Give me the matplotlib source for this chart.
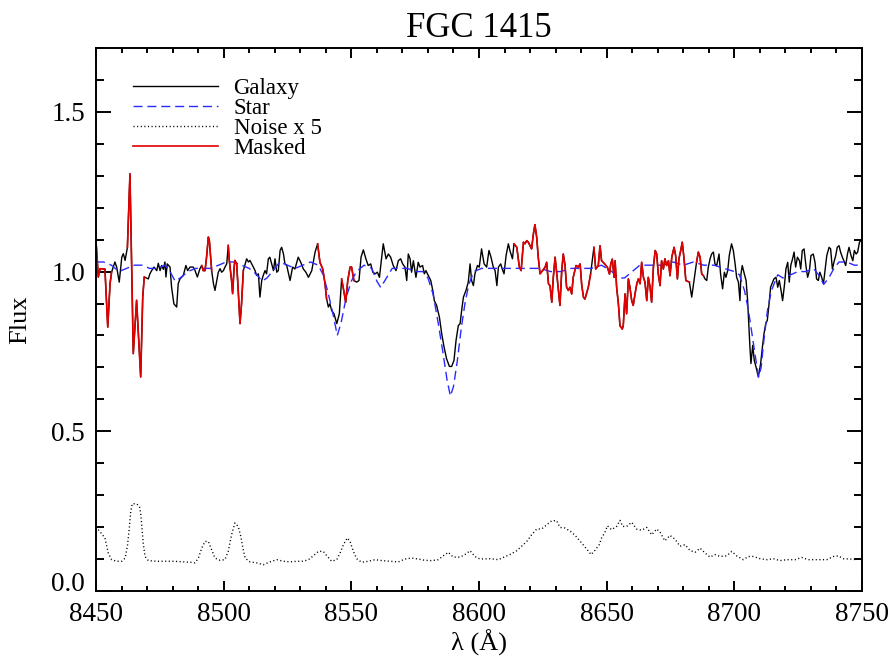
import matplotlib
matplotlib.use("Agg")
import matplotlib.pyplot as plt
import numpy as np

plt.rcParams["font.family"] = ["Liberation Serif", "DejaVu Serif"]
plt.rcParams["mathtext.fontset"] = "stix"

# Galaxy spectrum (wavelength in Angstrom, normalised flux)
gal_wave = [
    8450.0, 8450.9, 8451.6, 8453.5, 8454.6, 8455.5, 8456.1, 8457.4, 8458.1, 8459.1,
    8460.1, 8460.7, 8461.4, 8462.3, 8463.3, 8464.6, 8465.9, 8467.5, 8468.3, 8468.9,
    8470.5, 8471.1, 8471.8, 8472.7, 8473.8, 8474.4, 8475.1, 8475.7, 8476.4, 8477.0,
    8477.4, 8477.9, 8479.0, 8479.6, 8480.5, 8481.6, 8482.2, 8482.9, 8484.2, 8485.2,
    8485.9, 8486.8, 8488.1, 8488.8, 8489.7, 8490.7, 8491.4, 8492.0, 8492.7, 8493.3,
    8494.0, 8494.4, 8494.9, 8495.3, 8496.0, 8496.6, 8497.3, 8497.9, 8498.6, 8499.2,
    8499.9, 8500.5, 8501.2, 8501.8, 8502.2, 8503.1, 8503.5, 8504.1, 8504.4, 8505.1,
    8505.7, 8506.4, 8507.0, 8507.7, 8509.0, 8509.7, 8510.3, 8511.0, 8511.6, 8512.3,
    8512.9, 8513.6, 8514.2, 8514.9, 8515.5, 8516.2, 8516.8, 8517.5, 8518.1, 8518.8,
    8519.5, 8520.1, 8520.8, 8521.4, 8522.1, 8522.7, 8523.4, 8524.0, 8524.7, 8526.0,
    8527.0, 8527.9, 8529.2, 8530.2, 8531.2, 8532.2, 8533.2, 8534.5, 8535.8, 8536.8,
    8537.7, 8538.8, 8539.7, 8540.3, 8541.0, 8541.6, 8542.3, 8543.2, 8544.3, 8545.3,
    8546.2, 8546.9, 8547.8, 8548.6, 8549.5, 8550.1, 8551.0, 8552.1, 8553.0, 8553.8,
    8554.7, 8555.7, 8556.6, 8557.6, 8558.4, 8559.3, 8560.2, 8561.0, 8561.9, 8562.5,
    8563.6, 8564.5, 8565.4, 8566.4, 8567.5, 8568.4, 8569.3, 8570.1, 8571.0, 8571.7,
    8572.3, 8573.0, 8573.6, 8574.3, 8575.3, 8576.2, 8576.9, 8577.9, 8578.6, 8579.2,
    8580.2, 8581.1, 8581.9, 8582.5, 8583.4, 8584.5, 8585.4, 8586.3, 8587.3, 8588.4,
    8589.3, 8590.2, 8591.0, 8591.9, 8592.6, 8593.2, 8593.9, 8594.9, 8595.8, 8596.5,
    8597.1, 8597.8, 8598.4, 8599.4, 8600.1, 8601.0, 8602.0, 8603.0, 8603.9, 8604.7,
    8605.6, 8606.3, 8607.0, 8607.6, 8608.5, 8609.1, 8609.8, 8610.6, 8611.5, 8612.1,
    8613.1, 8613.7, 8614.8, 8615.8, 8616.5, 8617.4, 8618.0, 8618.7, 8619.3, 8620.0,
    8620.6, 8621.3, 8621.9, 8622.6, 8623.2, 8623.9, 8624.9, 8625.9, 8626.5, 8627.2,
    8627.8, 8628.5, 8629.1, 8629.8, 8630.4, 8631.1, 8631.7, 8632.4, 8633.0, 8633.7,
    8634.3, 8635.0, 8635.6, 8636.3, 8636.9, 8638.0, 8638.9, 8639.6, 8640.2, 8640.9,
    8641.5, 8642.8, 8643.7, 8645.0, 8645.7, 8646.7, 8647.4, 8648.0, 8649.2, 8650.3,
    8651.1, 8651.6, 8652.2, 8652.9, 8653.3, 8653.9, 8654.6, 8655.2, 8656.1, 8656.5,
    8657.2, 8657.8, 8658.5, 8659.1, 8659.8, 8660.4, 8661.1, 8661.8, 8662.4, 8663.1,
    8663.7, 8664.4, 8665.0, 8665.7, 8666.3, 8667.0, 8667.6, 8668.3, 8669.0, 8669.6,
    8670.2, 8670.9, 8671.5, 8672.2, 8672.8, 8673.5, 8674.2, 8674.8, 8675.5, 8676.4,
    8677.0, 8677.7, 8678.3, 8679.0, 8679.6, 8680.3, 8681.0, 8682.4, 8683.3, 8684.2,
    8685.2, 8685.9, 8686.6, 8687.2, 8687.9, 8688.5, 8689.2, 8689.8, 8690.5, 8691.1,
    8691.8, 8692.4, 8693.1, 8694.0, 8694.6, 8695.4, 8696.1, 8696.7, 8697.4, 8698.0,
    8698.9, 8699.6, 8700.3, 8700.9, 8701.6, 8702.2, 8702.6, 8703.1, 8703.9, 8704.6,
    8705.2, 8705.7, 8706.1, 8706.5, 8707.2, 8707.8, 8708.5, 8709.4, 8710.3, 8711.0,
    8711.6, 8712.3, 8712.9, 8713.6, 8714.2, 8715.0, 8715.5, 8716.3, 8717.0, 8717.6,
    8718.3, 8718.9, 8719.6, 8720.2, 8720.9, 8721.5, 8722.1, 8722.8, 8723.4, 8724.0,
    8724.7, 8725.5, 8726.0, 8726.6, 8727.3, 8728.1, 8728.7, 8729.4, 8730.0, 8730.9,
    8731.6, 8732.2, 8732.9, 8733.5, 8734.2, 8734.9, 8735.5, 8736.2, 8737.1, 8737.7,
    8738.4, 8739.0, 8739.7, 8740.3, 8741.0, 8741.6, 8742.3, 8742.9, 8743.6, 8744.3,
    8744.9, 8745.7, 8746.4, 8747.0, 8747.7, 8748.3, 8749.0, 8749.6,
]
gal_flux = [
    1.097, 0.983, 1.009, 1.008, 0.826, 0.962, 0.998, 1.030, 1.014, 0.967,
    1.045, 1.056, 1.035, 1.076, 1.306, 0.743, 0.910, 0.670, 0.920, 0.983,
    0.977, 0.993, 1.003, 1.014, 1.003, 1.026, 1.003, 1.019, 1.007, 1.030,
    0.983, 1.024, 1.014, 0.951, 0.899, 0.889, 0.962, 0.977, 0.988, 1.019,
    1.003, 1.014, 1.014, 1.003, 0.983, 1.009, 1.019, 1.003, 1.003, 1.045,
    1.108, 1.097, 1.045, 1.003, 0.962, 0.941, 0.972, 0.998, 1.009, 0.998,
    1.003, 1.014, 1.024, 1.082, 1.035, 0.972, 0.931, 1.014, 1.035, 1.024,
    0.941, 0.837, 0.899, 1.003, 1.040, 1.030, 1.035, 1.024, 1.014, 1.003,
    0.988, 0.993, 0.920, 0.972, 0.988, 1.003, 0.993, 1.040, 1.045, 1.024,
    1.003, 1.040, 0.998, 1.003, 1.066, 1.076, 1.056, 1.024, 1.019, 0.972,
    1.014, 1.008, 1.045, 1.029, 1.008, 0.998, 0.982, 1.003, 1.061, 1.087,
    1.029, 1.008, 0.962, 0.915, 0.889, 0.899, 0.878, 0.868, 0.837, 0.868,
    0.977, 0.946, 0.904, 0.972, 1.014, 1.014, 0.972, 0.967, 0.972, 1.045,
    1.068, 1.040, 1.019, 1.024, 0.998, 0.993, 0.998, 0.982, 1.045, 1.087,
    1.040, 1.055, 1.045, 1.019, 1.003, 1.034, 1.040, 1.024, 1.014, 0.972,
    1.055, 1.040, 0.998, 1.034, 0.982, 1.029, 1.014, 1.019, 0.993, 1.003,
    0.987, 0.972, 0.941, 0.909, 0.894, 0.857, 0.805, 0.764, 0.727, 0.703,
    0.703, 0.722, 0.784, 0.831, 0.837, 0.878, 0.920, 0.941, 0.967, 1.024,
    0.972, 0.956, 0.993, 1.019, 1.014, 1.071, 1.024, 1.014, 1.066, 1.045,
    1.014, 1.003, 0.956, 1.014, 1.024, 1.008, 0.993, 1.050, 1.087, 1.066,
    1.040, 1.087, 1.076, 1.014, 1.003, 1.092, 1.087, 1.097, 1.092, 1.081,
    1.071, 1.118, 1.147, 1.107, 1.045, 0.993, 1.003, 1.014, 1.029, 0.962,
    0.956, 0.904, 0.982, 1.045, 0.998, 0.941, 0.894, 1.003, 1.055, 1.019,
    0.951, 0.941, 0.951, 0.930, 0.982, 1.019, 1.014, 1.024, 0.960, 0.920,
    0.914, 0.951, 0.992, 1.076, 1.008, 1.018, 1.081, 1.034, 1.024, 1.013,
    0.992, 1.024, 1.039, 0.982, 1.034, 0.951, 0.898, 0.831, 0.820, 0.831,
    0.930, 0.868, 0.977, 0.951, 0.909, 0.894, 0.930, 0.962, 0.977, 0.962,
    1.029, 0.982, 0.967, 0.909, 0.982, 0.951, 0.904, 1.014, 1.066, 1.055,
    0.993, 0.956, 1.034, 1.008, 1.040, 1.019, 1.034, 0.987, 1.045, 1.076,
    1.050, 0.977, 1.040, 1.066, 1.092, 1.040, 0.972, 0.967, 0.920, 0.972,
    1.029, 1.061, 1.045, 0.993, 0.987, 0.977, 0.972, 1.014, 1.040, 1.055,
    1.061, 1.024, 1.019, 1.055, 0.993, 0.946, 0.998, 0.982, 1.003, 1.050,
    1.087, 1.066, 1.024, 0.982, 0.967, 0.909, 0.993, 1.019, 0.993, 0.972,
    0.909, 0.826, 0.764, 0.712, 0.769, 0.722, 0.701, 0.670, 0.712, 0.764,
    0.805, 0.837, 0.847, 0.899, 0.951, 0.967, 0.977, 0.982, 0.951, 0.972,
    0.941, 0.909, 0.956, 1.008, 1.029, 0.967, 1.019, 1.040, 1.061, 1.014,
    1.045, 1.034, 1.008, 1.066, 1.071, 1.014, 0.982, 1.003, 1.050, 1.055,
    1.029, 0.977, 0.972, 0.998, 0.982, 0.962, 1.003, 1.050, 1.076, 1.071,
    1.008, 1.029, 1.050, 1.076, 1.081, 1.061, 1.045, 1.034, 1.019, 1.055,
    1.076, 1.050, 1.034, 1.066, 1.055, 1.061, 1.092, 1.097,
]

# Stellar template fit
star_wave = [
    8450, 8453, 8456, 8459, 8462, 8465, 8468, 8471, 8474, 8477,
    8479, 8481, 8483, 8486, 8489, 8492, 8495, 8498, 8501, 8504,
    8507, 8510, 8513, 8515, 8517, 8520, 8522, 8525, 8528, 8531,
    8534, 8537, 8539, 8541, 8543, 8544.5, 8546, 8548, 8550, 8552,
    8555, 8558, 8560, 8561.5, 8563, 8566, 8569, 8572, 8575, 8578,
    8580, 8582, 8584, 8586, 8587.5, 8588.8, 8590, 8591.5, 8593, 8594.5,
    8596, 8598, 8601, 8605, 8608, 8612, 8616, 8620, 8624, 8628,
    8632, 8636, 8640, 8644, 8648, 8652, 8655, 8657, 8660, 8663,
    8666, 8669, 8672, 8676, 8680, 8684, 8688, 8692, 8696, 8700,
    8702, 8704, 8705.5, 8707, 8708.5, 8709.5, 8710.5, 8711.5, 8713, 8714.5,
    8717, 8719, 8722, 8725, 8728, 8731, 8733, 8735, 8737, 8739,
    8741, 8744, 8747, 8750,
]
star_flux = [
    1.03, 1.03, 1.02, 1.00, 1.01, 1.02, 1.02, 1.01, 1.01, 1.02,
    1.00, 0.97, 0.98, 1.00, 1.01, 1.01, 1.01, 1.02, 1.03, 1.03,
    1.02, 1.01, 0.99, 0.97, 0.98, 1.01, 1.03, 1.02, 1.01, 1.02,
    1.03, 1.02, 0.99, 0.93, 0.86, 0.80, 0.84, 0.92, 0.97, 1.00,
    1.02, 1.01, 0.97, 0.95, 0.97, 1.01, 1.01, 1.01, 1.00, 1.00,
    0.98, 0.93, 0.84, 0.74, 0.66, 0.61, 0.64, 0.72, 0.82, 0.90,
    0.96, 1.00, 1.01, 1.01, 1.01, 1.01, 1.01, 1.01, 1.01, 1.00,
    1.00, 1.01, 1.01, 1.01, 1.02, 1.00, 0.98, 0.98, 1.00, 1.02,
    1.02, 1.02, 1.02, 1.03, 1.02, 1.03, 1.02, 1.02, 1.01, 1.00,
    0.99, 0.94, 0.88, 0.80, 0.72, 0.67, 0.70, 0.78, 0.88, 0.94,
    0.99, 0.98, 0.99, 1.00, 1.00, 1.01, 0.99, 0.96, 0.98, 1.01,
    1.03, 1.03, 1.02, 1.02,
]

# Noise spectrum (already multiplied by 5)
noise_wave = [
    8450.9, 8453.5, 8454.8, 8456.1, 8458.1, 8460.1, 8461.4, 8462.3, 8463.1, 8463.6,
    8464.2, 8465.9, 8467.0, 8467.5, 8467.9, 8468.5, 8469.2, 8470.5, 8473.8, 8480.3,
    8486.8, 8488.8, 8490.1, 8491.4, 8492.7, 8494.0, 8495.3, 8496.6, 8498.6, 8500.5,
    8501.8, 8503.1, 8504.4, 8505.7, 8506.7, 8507.4, 8508.4, 8510.3, 8512.9, 8515.5,
    8518.1, 8520.8, 8523.4, 8526.0, 8528.6, 8531.2, 8533.2, 8535.1, 8537.1, 8539.0,
    8540.6, 8542.3, 8544.3, 8545.6, 8546.9, 8548.4, 8549.5, 8550.8, 8552.1, 8554.0,
    8556.7, 8559.3, 8561.9, 8565.1, 8568.4, 8571.0, 8573.6, 8576.2, 8578.8, 8581.4,
    8584.1, 8586.0, 8588.0, 8589.9, 8592.6, 8594.5, 8596.5, 8598.4, 8600.4, 8604.3,
    8607.6, 8609.5, 8612.1, 8614.8, 8616.7, 8618.7, 8620.6, 8622.6, 8624.5, 8626.5,
    8628.5, 8630.4, 8631.7, 8633.7, 8636.3, 8638.2, 8640.2, 8642.2, 8643.9, 8645.4,
    8647.1, 8648.0, 8649.3, 8650.3, 8651.9, 8653.9, 8655.2, 8656.3, 8657.8, 8659.8,
    8661.7, 8663.7, 8665.7, 8667.6, 8669.6, 8670.9, 8672.8, 8674.8, 8676.8, 8678.7,
    8680.7, 8682.6, 8684.6, 8686.6, 8688.5, 8690.5, 8692.4, 8694.4, 8697.0, 8699.0,
    8700.9, 8703.5, 8705.5, 8707.4, 8710.1, 8712.7, 8715.3, 8717.9, 8720.5, 8723.8,
    8726.4, 8729.0, 8732.3, 8736.2, 8738.8, 8740.7, 8742.7, 8745.3, 8747.9,
]
noise_flux = [
    0.192, 0.166, 0.119, 0.098, 0.093, 0.093, 0.103, 0.140, 0.202, 0.249,
    0.273, 0.273, 0.265, 0.244, 0.207, 0.150, 0.108, 0.095, 0.093, 0.093,
    0.090, 0.088, 0.103, 0.134, 0.155, 0.155, 0.129, 0.103, 0.096, 0.098,
    0.124, 0.176, 0.213, 0.202, 0.171, 0.140, 0.103, 0.091, 0.088, 0.082,
    0.091, 0.098, 0.093, 0.091, 0.093, 0.093, 0.098, 0.110, 0.124, 0.124,
    0.108, 0.093, 0.098, 0.119, 0.145, 0.166, 0.155, 0.124, 0.101, 0.090,
    0.093, 0.098, 0.095, 0.093, 0.091, 0.100, 0.103, 0.100, 0.096, 0.095,
    0.098, 0.110, 0.121, 0.106, 0.106, 0.114, 0.126, 0.108, 0.100, 0.101,
    0.098, 0.105, 0.114, 0.126, 0.140, 0.155, 0.176, 0.194, 0.194, 0.207,
    0.220, 0.220, 0.199, 0.197, 0.184, 0.169, 0.150, 0.131, 0.114, 0.127,
    0.145, 0.166, 0.183, 0.204, 0.192, 0.202, 0.221, 0.202, 0.202, 0.215,
    0.194, 0.190, 0.199, 0.176, 0.194, 0.184, 0.157, 0.174, 0.162, 0.140,
    0.145, 0.127, 0.121, 0.134, 0.119, 0.106, 0.114, 0.108, 0.110, 0.124,
    0.110, 0.098, 0.108, 0.108, 0.101, 0.098, 0.101, 0.095, 0.098, 0.098,
    0.105, 0.098, 0.098, 0.098, 0.108, 0.110, 0.101, 0.100, 0.098,
]

# Wavelength windows excluded from the fit (drawn in red)
mask_lo = [8450.0, 8462.3, 8491.0, 8501.5, 8536.5, 8546.0, 8613.5, 8645.0, 8685.2]
mask_hi = [8456.1, 8468.9, 8495.3, 8507.7, 8540.3, 8551.0, 8643.7, 8682.4, 8687.9]

gw = np.array(gal_wave)
gf = np.array(gal_flux)

fig = plt.figure(figsize=(8.93, 6.62), dpi=100)
ax = fig.add_axes([0.1075, 0.1073, 0.8578, 0.8202])

ax.plot(gw, gf, color="black", lw=1.0, label="Galaxy")
ax.plot(star_wave, star_flux, color="#2a2aff", lw=1.0,
        linestyle=(0, (6.5, 3.5)), label="Star")
ax.plot(noise_wave, noise_flux, color="black", lw=1.0,
        linestyle=(0, (0.8, 1.8)), label="Noise x 5")
for i, (lo, hi) in enumerate(zip(mask_lo, mask_hi)):
    sel = (gw >= lo) & (gw <= hi)
    ax.plot(gw[sel], gf[sel], color="#e00000", lw=1.2,
            label="Masked" if i == 0 else None)

ax.set_xlim(8450, 8750)
ax.set_ylim(0, 1.7)
ax.set_xticks(np.arange(8450, 8751, 50))
ax.set_xticks(np.arange(8450, 8751, 10), minor=True)
ax.set_yticks([0.0, 0.5, 1.0, 1.5])
ax.set_yticklabels(["0.0", "0.5", "1.0", "1.5"])
ax.set_yticks(np.arange(0, 1.71, 0.1), minor=True)

ax.tick_params(axis="both", which="both", direction="in", top=True, right=True,
               labelsize=19.5, width=1.4)
ax.tick_params(axis="x", which="major", length=7.5, pad=8)
ax.tick_params(axis="x", which="minor", length=3.5)
ax.tick_params(axis="y", which="major", length=11, pad=8)
ax.tick_params(axis="y", which="minor", length=5.5)
for sp in ax.spines.values():
    sp.set_linewidth(1.4)

# IDL puts the bottom y label a little above the axis corner
ax.get_yticklabels()[0].set_verticalalignment("baseline")

ax.set_xlabel("λ (Å)", fontsize=19, labelpad=2)
ax.set_ylabel("Flux", fontsize=19, labelpad=14)
ax.set_title("FGC 1415", fontsize=25, pad=8)

ax.legend(loc="upper left", bbox_to_anchor=(0.036, 0.962), frameon=False,
          fontsize=16.5, handlelength=3.7, handletextpad=0.7, labelspacing=-0.05,
          borderaxespad=0.0)

fig.savefig("out.png", dpi=100)
